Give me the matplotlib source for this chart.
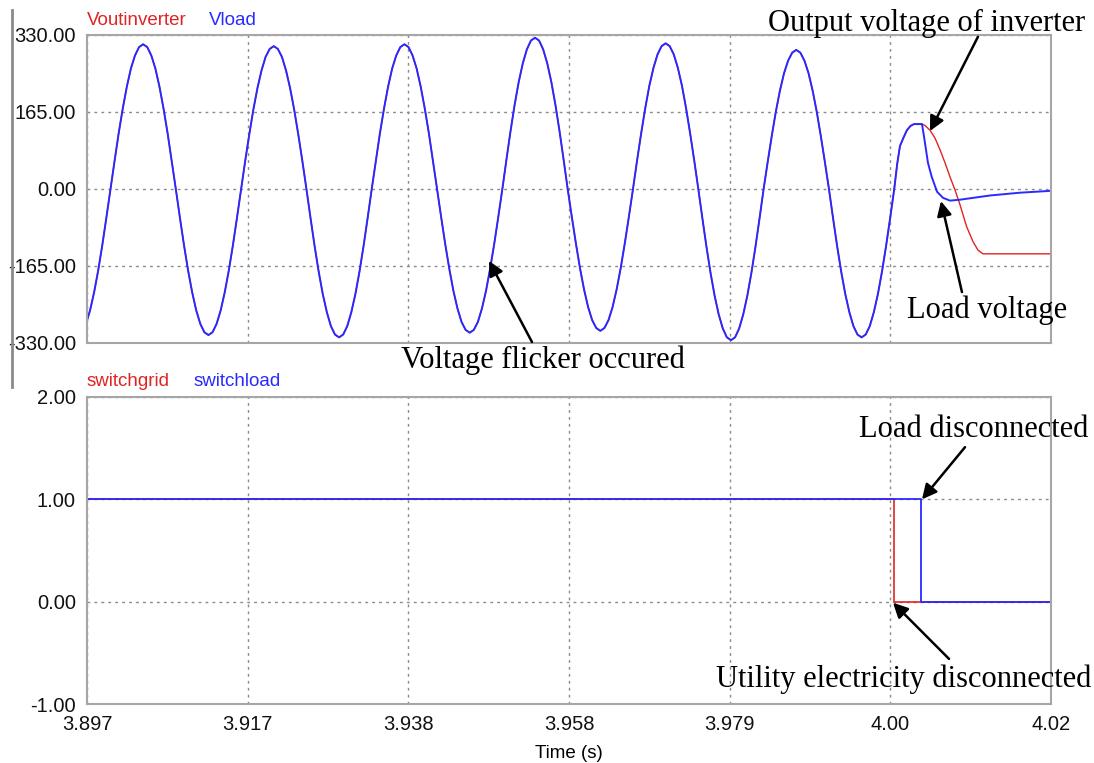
import numpy as np
import matplotlib
matplotlib.use("Agg")
import matplotlib.pyplot as plt
from matplotlib.lines import Line2D

plt.rcParams['font.family'] = ['Liberation Sans', 'DejaVu Sans']

# ---- data ----
# x axis ticks (time, s)
x_ticks = [3.897, 3.9175, 3.938, 3.9585, 3.979, 3.9995, 4.02]
x_labels = ["3.897", "3.917", "3.938", "3.958", "3.979", "4.00", "4.02"]
top_ticks = [330, 165, 0, -165, -330]
top_labels = ["330.00", "165.00", "0.00", "-165.00", "-330.00"]
bot_ticks = [2, 1, 0, -1]
bot_labels = ["2.00", "1.00", "0.00", "-1.00"]

# common voltage (Voutinverter == Vload before 4.00 s), sampled every 1/1920 s
wave_t0 = 3.896875
wave_dt = 1 / 1920
v_wave = [
    -289, -260, -221, -174, -120, -61,
    # cycle 1
    0, 60, 119, 172, 219, 258, 286, 304, 310, 304, 286, 258, 219, 172, 119, 60,
    0, -61, -120, -174, -221, -260, -289, -307, -313, -307, -289, -260, -221, -174, -120, -61,
    # cycle 2
    0, 60, 117, 170, 216, 254, 283, 300, 306, 300, 283, 254, 216, 170, 117, 60,
    0, -62, -122, -177, -225, -264, -294, -312, -318, -312, -294, -264, -225, -177, -122, -62,
    # cycle 3
    0, 60, 119, 172, 219, 258, 286, 304, 310, 304, 286, 258, 219, 172, 119, 60,
    0, -60, -118, -171, -218, -256, -285, -302, -308, -302, -285, -256, -218, -171, -118, -60,
    # cycle 4
    0, 63, 124, 180, 229, 269, 299, 318, 324, 318, 299, 269, 229, 180, 124, 63,
    0, -59, -116, -169, -215, -253, -281, -298, -304, -298, -281, -253, -215, -169, -116, -59,
    # cycle 5
    0, 61, 119, 173, 221, 259, 288, 306, 312, 306, 288, 259, 221, 173, 119, 61,
    0, -63, -124, -180, -229, -269, -299, -318, -324, -318, -299, -269, -229, -180, -124, -63,
    # cycle 6
    0, 58, 114, 166, 211, 248, 275, 292, 298, 292, 275, 248, 211, 166, 114, 58,
    0, -62, -122, -177, -225, -264, -294, -312, -318, -312, -294, -264, -225, -177, -122, -62,
    0,
]
t_common_tail = [4.00037, 4.00073, 4.00118, 4.00162, 4.00207, 4.00252, 4.00354]
v_common_tail = [53, 92, 110, 126, 135, 139, 139]

# after the event
t_inv_tail = [4.00392, 4.00456, 4.00520, 4.00584, 4.00648, 4.00711, 4.00775,
              4.00839, 4.00924, 4.01005, 4.01068, 4.01132, 4.02]
v_inv_tail = [136, 126, 109, 84, 56, 26, -2, -34, -81, -113, -131, -139, -139]
t_load_tail = [4.00380, 4.00430, 4.00478, 4.00546, 4.00622, 4.00711, 4.00839,
               4.01222, 4.01604, 4.02]
v_load_tail = [112, 56, 26, -6, -19, -25, -23, -14, -8, -4]

# switch signals
t_switchgrid = [3.897, 4.0000, 4.02]
switchgrid = [1, 0, 0]
t_switchload = [3.897, 4.0034, 4.02]
switchload = [1, 0, 0]

RED = '#e02424'
BLUE = '#2a2aff'
GRIDC = '#8a8a8a'
SPINEC = '#a6a6a6'

t_wave = wave_t0 + np.arange(len(v_wave)) * wave_dt
t_base = np.concatenate([t_wave, t_common_tail])
v_base = np.concatenate([v_wave, v_common_tail])
t_inv = np.concatenate([t_base, t_inv_tail])
v_inv = np.concatenate([v_base, v_inv_tail])
t_load = np.concatenate([t_base, t_load_tail])
v_load = np.concatenate([v_base, v_load_tail])

fig = plt.figure(figsize=(10.94, 7.63), dpi=100)
ax1 = fig.add_axes([0.0795, 0.5505, 0.8812, 0.4037])
ax2 = fig.add_axes([0.0795, 0.0773, 0.8812, 0.4024])

ax1.plot(t_inv, v_inv, color=RED, lw=1.0)
ax1.plot(t_load, v_load, color=BLUE, lw=1.4)
ax2.step(t_switchgrid, switchgrid, where='post', color=RED, lw=1.2)
ax2.step(t_switchload, switchload, where='post', color=BLUE, lw=1.3)

for ax, ticks, labels in [(ax1, top_ticks, top_labels), (ax2, bot_ticks, bot_labels)]:
    ax.set_xlim(3.897, 4.02)
    ax.set_ylim(min(ticks), max(ticks))
    ax.set_xticks(x_ticks)
    ax.set_yticks(ticks)
    ax.set_yticklabels(labels)
    ax.tick_params(length=0, pad=8, labelsize=14.5, colors='#111111')
    ax.grid(True, color=GRIDC, linestyle=(0, (2, 3)), linewidth=1)
    for s in ax.spines.values():
        s.set_color(SPINEC)
        s.set_linewidth(1.5)

ax1.set_xticklabels([])
ax2.set_xticklabels(x_labels)

# series names above each panel
ax1.text(0.0, 1 + 10 / 308, 'Voutinverter', transform=ax1.transAxes, color=RED,
         fontsize=13.5, va='baseline')
ax1.text(0.1266, 1 + 10 / 308, 'Vload', transform=ax1.transAxes, color=BLUE,
         fontsize=13.5, va='baseline')
ax2.text(0.0, 1 + 11 / 307, 'switchgrid', transform=ax2.transAxes, color=RED,
         fontsize=13.5, va='baseline')
ax2.text(0.11, 1 + 11 / 307, 'switchload', transform=ax2.transAxes, color=BLUE,
         fontsize=13.5, va='baseline')
ax2.text(0.5, -49 / 307, 'Time (s)', transform=ax2.transAxes, ha='center',
         va='center', fontsize=13.5)

# annotations
serif = dict(family='Liberation Serif', fontsize=22, ha='center', va='baseline')
arrow = dict(arrowstyle='-|>', color='k', lw=1.8, mutation_scale=22, shrinkA=0, shrinkB=0)

ax1.text(4.00418, 338.6, 'Output voltage of inverter', clip_on=False, **serif)
ax1.annotate('', xy=(4.00456, 124), xytext=(4.01068, 326), arrowprops=arrow,
             annotation_clip=False)
ax1.text(4.01183, -276, 'Load voltage', clip_on=False, **serif)
ax1.annotate('', xy=(4.00596, -26), xytext=(4.00864, -221), arrowprops=arrow,
             annotation_clip=False)
ax1.text(3.95518, -384, 'Voltage flicker occured', clip_on=False, **serif)
ax1.annotate('', xy=(3.94829, -154), xytext=(3.95378, -328), arrowprops=arrow,
             annotation_clip=False)

ax2.text(4.01018, 1.608, 'Load disconnected', clip_on=False, **serif)
ax2.annotate('', xy=(4.00354, 1.0), xytext=(4.00903, 1.51), arrowprops=arrow,
             annotation_clip=False)
ax2.text(4.00124, -0.833, 'Utility electricity disconnected', clip_on=False, **serif)
ax2.annotate('', xy=(3.99984, -0.01), xytext=(4.00699, -0.559), arrowprops=arrow,
             annotation_clip=False)

# stray frame line on the left edge
fig.add_artist(Line2D([0.011, 0.011], [0.987, 0.493], color='#8a8a8a', lw=2))

fig.savefig('out.png', dpi=100)
